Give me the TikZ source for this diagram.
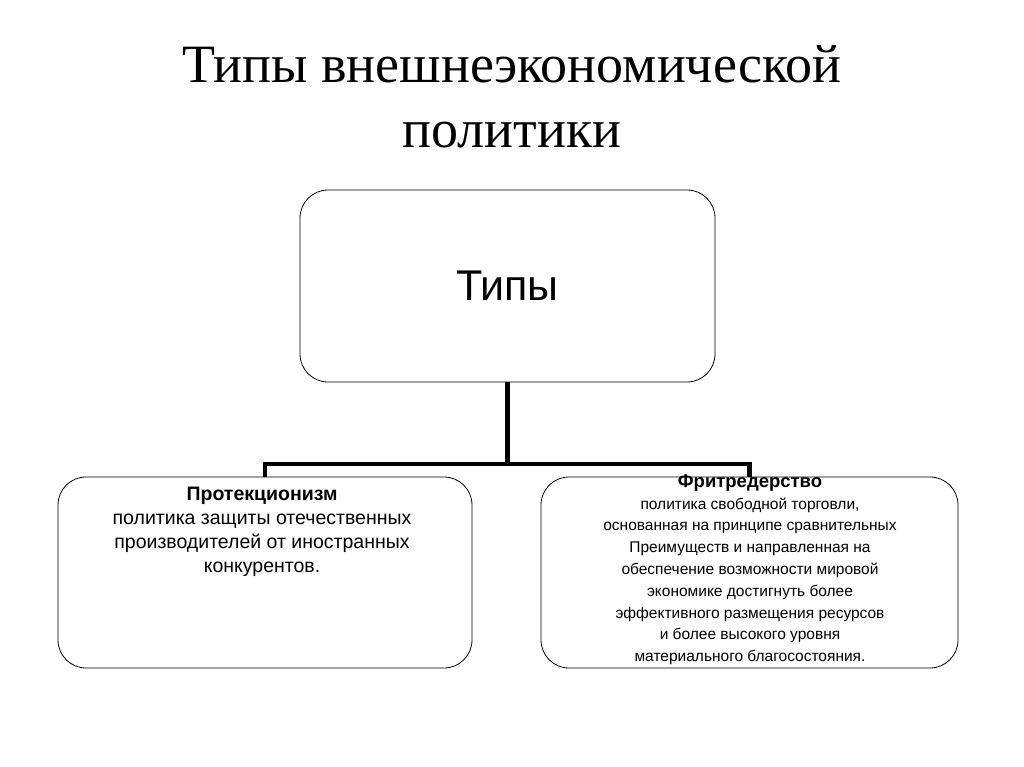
\documentclass[tikz,border=0pt]{standalone}
\usepackage{fontspec}
\setmainfont{Liberation Serif}
\setsansfont{Liberation Sans}
\usetikzlibrary{positioning}

\begin{document}
\begin{tikzpicture}[x=1pt, y=-1pt,
    box/.style={draw, rounded corners=28pt, line width=0.8pt, font=\sffamily},
    link/.style={line width=4.5pt}]
    \useasboundingbox (0,0) rectangle (1024,767);
    \node[font=\fontsize{54}{65}\selectfont, align=center] (title) at (512,97)
        {Типы внешнеэкономической\\политики};
    \node[box, minimum width=415pt, minimum height=192pt,
        font=\sffamily\fontsize{43}{50}\selectfont] (types) at (507.5,286) {Типы};
    \node[box, minimum width=414pt, minimum height=191pt] (prot) at (265,572.5) {};
    \node[box, minimum width=417pt, minimum height=191pt] (free) at (749.5,572.5) {};
    \node[font=\sffamily\fontsize{19.5}{24}\selectfont, align=center, anchor=north] (prottext)
        at (262,484) {\textbf{Протекционизм}\\политика защиты отечественных\\производителей от иностранных\\конкурентов.};
    \node[font=\sffamily\fontsize{15.5}{21.8}\selectfont, align=center, anchor=north] (freetext)
        at (750,471) {\textbf{\fontsize{18.5}{22}\selectfont Фритредерство}\\политика свободной торговли,\\основанная на принципе сравнительных\\Преимуществ и направленная на\\обеспечение возможности мировой\\экономике достигнуть более\\эффективного размещения ресурсов\\и более высокого уровня\\материального благосостояния.};
    \coordinate (hub) at (507.5,464);
    \coordinate (lend) at (265,464);
    \coordinate (rend) at (749.5,464);
    \draw[link] (types.south) -- (hub);
    \draw[link] (prot.north) -- (lend) -- (rend) -- (free.north);
\end{tikzpicture}
\end{document}
